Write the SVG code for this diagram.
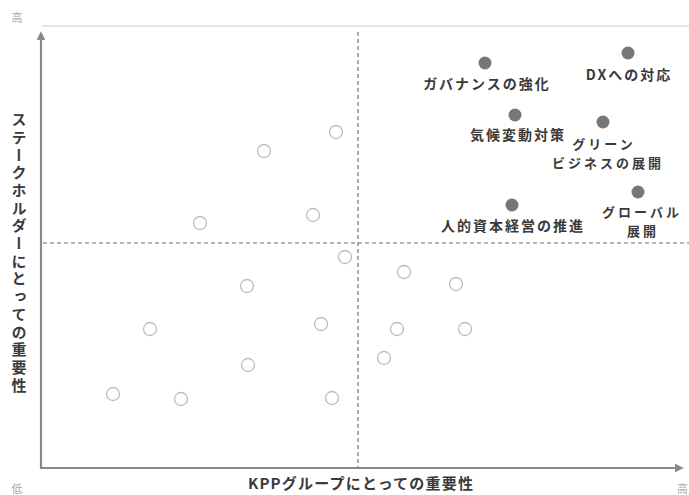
<svg xmlns="http://www.w3.org/2000/svg" width="689" height="495" viewBox="0 0 689 495">
<defs>
<style>
.axis{stroke:#8a8a8a;stroke-width:2.2;fill:none}
.dash{stroke:#9a9a9a;stroke-width:1.6;stroke-dasharray:4 3;fill:none}
.open{fill:#fff;stroke:#bdbdbd;stroke-width:1.3}
.fill{fill:#777;stroke:none}
.lbl{font-family:"Noto Sans CJK JP","Noto Sans",sans-serif;font-size:14px;font-weight:bold;fill:#3a3a3a;text-anchor:middle;letter-spacing:2px}
.lbl2{font-size:13px;letter-spacing:3px}
.ax{font-family:"Noto Sans CJK JP","Noto Sans",sans-serif;font-size:15px;font-weight:bold;fill:#3a3a3a}
.tick{font-family:"Noto Sans CJK JP",sans-serif;font-size:11px;fill:#aaa}
</style>
<marker id="arr" viewBox="0 0 10 10" refX="8" refY="5" markerWidth="4" markerHeight="4" orient="auto-start-reverse" markerUnits="strokeWidth">
<path d="M0,0 L10,5 L0,10 z" fill="#8a8a8a"/>
</marker>
</defs>
<rect width="689" height="495" fill="#fff"/>
<g id="frame">
<line x1="42" y1="26" x2="689" y2="26" stroke="#dcdcdc" stroke-width="1.5"/>
</g>
<g id="connectors">
<line class="axis" x1="41" y1="468" x2="41" y2="33" marker-end="url(#arr)"/>
<line class="axis" x1="40" y1="468" x2="682" y2="468" marker-end="url(#arr)"/>
<line class="dash" x1="358" y1="32" x2="358" y2="467"/>
<line class="dash" x1="43" y1="243" x2="689" y2="243"/>
</g>
<g id="ticks">
<text class="tick" x="17" y="22" text-anchor="middle">高</text>
<text class="tick" x="17" y="493" text-anchor="middle">低</text>
<text class="tick" x="688" y="493" text-anchor="end">高</text>
</g>
<g id="axis-labels">
<text class="ax" x="361" y="489" text-anchor="middle" style="letter-spacing:1.2px">KPPグループにとっての重要性</text>
<text class="ax" x="19" y="112" style="writing-mode:vertical-rl;letter-spacing:2.7px">ステークホルダーにとっての重要性</text>
</g>
<g id="others">
<circle class="open" cx="336" cy="132" r="6.5"/>
<circle class="open" cx="264" cy="151" r="6.5"/>
<circle class="open" cx="200" cy="223" r="6.5"/>
<circle class="open" cx="313" cy="215" r="6.5"/>
<circle class="open" cx="345" cy="257" r="6.5"/>
<circle class="open" cx="404" cy="272" r="6.5"/>
<circle class="open" cx="456" cy="284" r="6.5"/>
<circle class="open" cx="247" cy="286" r="6.5"/>
<circle class="open" cx="150" cy="329" r="6.5"/>
<circle class="open" cx="321" cy="324" r="6.5"/>
<circle class="open" cx="397" cy="329" r="6.5"/>
<circle class="open" cx="465" cy="329" r="6.5"/>
<circle class="open" cx="384" cy="358" r="6.5"/>
<circle class="open" cx="248" cy="365" r="6.5"/>
<circle class="open" cx="113" cy="394" r="6.5"/>
<circle class="open" cx="181" cy="399" r="6.5"/>
<circle class="open" cx="332" cy="398" r="6.5"/>
</g>
<g id="governance">
<circle class="fill" cx="485" cy="63" r="6.5"/>
<text class="lbl" x="487" y="89">ガバナンスの強化</text>
</g>
<g id="dx">
<circle class="fill" cx="628" cy="53" r="6.5"/>
<text class="lbl" x="629" y="80">DXへの対応</text>
</g>
<g id="climate">
<circle class="fill" cx="515" cy="115" r="6.5"/>
<text class="lbl" x="518" y="140">気候変動対策</text>
</g>
<g id="green">
<circle class="fill" cx="603" cy="122" r="6.5"/>
<text class="lbl lbl2"><tspan x="604" y="149">グリーン</tspan><tspan x="608" y="168">ビジネスの展開</tspan></text>
</g>
<g id="global">
<circle class="fill" cx="638" cy="192" r="6.5"/>
<text class="lbl lbl2"><tspan x="642" y="217">グローバル</tspan><tspan x="643" y="236">展開</tspan></text>
</g>
<g id="human">
<circle class="fill" cx="512" cy="205" r="6.5"/>
<text class="lbl" x="513" y="231">人的資本経営の推進</text>
</g>
</svg>
